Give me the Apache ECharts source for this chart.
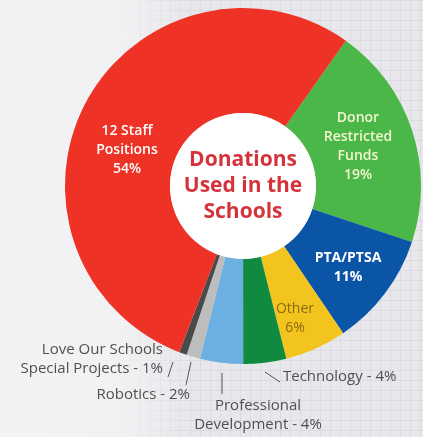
<!DOCTYPE html>
<html>
<head>
<meta charset="utf-8">
<script src="https://cdn.jsdelivr.net/npm/echarts@6/dist/echarts.min.js"></script>
<style>
  html, body { margin: 0; padding: 0; }
  body {
    width: 423px; height: 437px; overflow: hidden;
    background:
      linear-gradient(to right, rgba(243,243,245,1) 0px, rgba(243,243,245,0.9) 120px, rgba(243,243,245,0) 190px),
      repeating-linear-gradient(to right, rgba(205,205,215,0.45) 0px, rgba(205,205,215,0.45) 1px, transparent 1px, transparent 10px),
      repeating-linear-gradient(to bottom, rgba(205,205,215,0.45) 0px, rgba(205,205,215,0.45) 1px, transparent 1px, transparent 10px),
      #e8e8ec;
  }
  #chart { width: 423px; height: 437px; }
</style>
</head>
<body>
<div id="chart"></div>
<script>
// ---- data (clockwise from the red/green boundary) ----
const categories = [
  "Donor\nRestricted\nFunds",
  "PTA/PTSA",
  "Other",
  "Technology",
  "Professional\nDevelopment",
  "Robotics",
  "Love Our Schools\nSpecial Projects",
  "12 Staff\nPositions"
];
// slice shares as drawn in the picture
const shares = [20.3, 10.4, 5.6, 3.9, 3.9, 1.25, 0.7, 54.0];
// percentages printed on the labels
const printedPct = [19, 11, 6, 4, 4, 2, 1, 54];
const centerTitle = "Donations\nUsed in the\nSchools";

// ---- style ----
const colors = ["#4bb749", "#0b55a6", "#f4c41e", "#0f8a3f", "#6cafe2", "#bdbdbd", "#4a4a4a", "#ee3226"];
const insideLabel = [true, true, true, false, false, false, false, true];
const labelColors = ["#f3f6cf", "#ffffff", "#8a6a12", "#505050", "#505050", "#505050", "#505050", "#ffffff"];
const labelWeights = [600, "bold", "normal", "normal", "normal", "normal", "normal", 600];
const labelSizes = [14, 14, 14, 15, 15, 15, 15, 14];
const CX = 243, CY = 186, R_IN = 73, R_OUT = 178;
// label anchor offsets from the pie centre + alignment
const labelPlace = [
  { dx: 115, dy: -39, align: "center" },
  { dx: 105, dy: 82, align: "center" },
  { dx: 52, dy: 133, align: "center" },
  { dx: 40, dy: 191, align: "left", line: [[22, 186], [37, 196]] },
  { dx: 15, dy: 229, align: "center", line: [[-21, 187], [-21, 208]] },
  { dx: -53, dy: 209, align: "right", line: [[-52, 176], [-57, 199]] },
  { dx: -80, dy: 173, align: "right", line: [[-70, 176], [-75, 191]] },
  { dx: -116, dy: -36, align: "center" }
];

const data = categories.map((c, i) => ({
  name: c,
  value: shares[i],
  itemStyle: { color: colors[i] },
  label: {
    color: labelColors[i],
    fontWeight: labelWeights[i],
    fontSize: labelSizes[i],
    align: labelPlace[i].align
  },
  labelLine: { show: !insideLabel[i] }
}));

const chart = echarts.init(document.getElementById("chart"), null, { renderer: "canvas" });
chart.setOption({
  backgroundColor: "transparent",
  animation: false,
  series: [
    {
      type: "pie",
      center: [CX, CY],
      radius: [R_IN, R_OUT],
      startAngle: 54.7,
      clockwise: true,
      avoidLabelOverlap: false,
      silent: true,
      data: data,
      label: {
        show: true,
        position: "outside",
        fontFamily: "Open Sans",
        fontSize: 14,
        lineHeight: 19,
        formatter: function (p) {
          const i = p.dataIndex;
          return insideLabel[i] ? p.name + "\n" + printedPct[i] + "%" : p.name + " - " + printedPct[i] + "%";
        }
      },
      labelLine: { lineStyle: { color: "#555", width: 1 } },
      labelLayout: function (p) {
        const L = labelPlace[p.dataIndex];
        const out = { x: CX + L.dx, y: CY + L.dy, align: L.align, verticalAlign: "middle" };
        if (L.line) {
          out.labelLinePoints = [
            [CX + L.line[0][0], CY + L.line[0][1]],
            [CX + L.line[1][0], CY + L.line[1][1]],
            [CX + L.line[1][0], CY + L.line[1][1]]
          ];
        }
        return out;
      }
    },
    {
      type: "pie",
      center: [CX, CY],
      radius: [0, R_IN],
      silent: true,
      data: [{ value: 1, name: centerTitle, itemStyle: { color: "#ffffff" } }],
      label: {
        show: true,
        position: "center",
        formatter: "{b}",
        color: "#d5333b",
        fontFamily: "Open Sans",
        fontWeight: "bold",
        fontSize: 21,
        lineHeight: 26
      },
      labelLine: { show: false }
    }
  ]
});
</script>
</body>
</html>
